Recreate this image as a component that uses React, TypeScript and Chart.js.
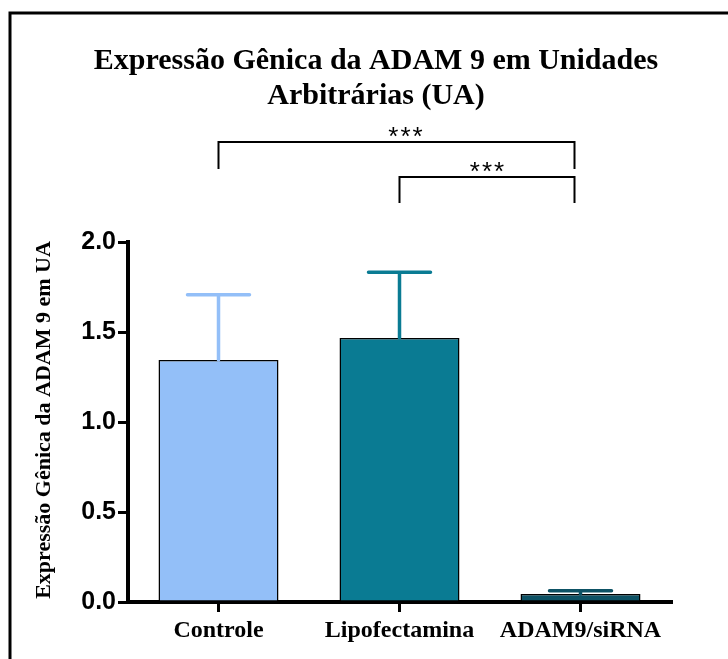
import React, { useEffect, useRef } from "react";
import { Chart, registerables } from "chart.js";

Chart.register(...registerables);

const categories = ["Controle", "Lipofectamina", "ADAM9/siRNA"];
const means = [1.345, 1.467, 0.045];
const sems = [0.362, 0.365, 0.017];
const barColors = ["#93BFF8", "#0A7B93", "#0D5265"];
const yTicks = [0, 0.5, 1.0, 1.5, 2.0];
const comparisons: [number, number, string][] = [
  [0, 2, "***"],
  [1, 2, "***"],
];
const titleLines = ["Expressão Gênica da ADAM 9 em Unidades", "Arbitrárias (UA)"];
const yTitle = "Expressão Gênica da ADAM 9 em UA";

const serif = "'Liberation Serif', 'Times New Roman', serif";
const sans = "'Liberation Sans', Arial, sans-serif";

const decorPlugin = {
  id: "decor",
  beforeDraw(chart: any) {
    const ctx = chart.ctx;
    ctx.save();
    ctx.fillStyle = "#fff";
    ctx.fillRect(0, 0, chart.width, chart.height);
    ctx.strokeStyle = "#000";
    ctx.lineWidth = 3;
    ctx.beginPath();
    ctx.moveTo(10, chart.height);
    ctx.lineTo(10, 13);
    ctx.lineTo(chart.width, 13);
    ctx.stroke();
    ctx.restore();
  },
  afterDatasetsDraw(chart: any) {
    const ctx = chart.ctx;
    const meta = chart.getDatasetMeta(0);
    const ys = chart.scales.y;
    ctx.save();
    ctx.lineCap = "round";
    meta.data.forEach((bar: any, i: number) => {
      const top = ys.getPixelForValue(means[i] + sems[i]);
      const base = ys.getPixelForValue(means[i]);
      ctx.strokeStyle = barColors[i];
      ctx.lineWidth = 3.5;
      ctx.beginPath();
      ctx.moveTo(bar.x, base);
      ctx.lineTo(bar.x, top);
      ctx.moveTo(bar.x - 31, top);
      ctx.lineTo(bar.x + 31, top);
      ctx.stroke();
    });
    ctx.restore();
  },
  afterDraw(chart: any) {
    const ctx = chart.ctx;
    const xs = chart.scales.x;
    ctx.save();
    // title
    ctx.fillStyle = "#000";
    ctx.textAlign = "center";
    ctx.textBaseline = "alphabetic";
    ctx.font = `bold 30px ${serif}`;
    ctx.fillText(titleLines[0], 376, 69);
    ctx.fillText(titleLines[1], 376, 104);
    // y title
    ctx.save();
    ctx.translate(50, 420);
    ctx.rotate(-Math.PI / 2);
    ctx.font = `bold 22px ${serif}`;
    ctx.fillText(yTitle, 0, 0);
    ctx.restore();
    // brackets
    const levels = [
      { y: 142, drop: 27, dx: 9 },
      { y: 177, drop: 26, dx: 0 },
    ];
    ctx.strokeStyle = "#000";
    ctx.lineWidth = 2;
    ctx.lineCap = "butt";
    comparisons.forEach(([a, b, label], k) => {
      const x1 = xs.getPixelForValue(a);
      const x2 = xs.getPixelForValue(b) - 6;
      const { y, drop, dx } = levels[k];
      ctx.beginPath();
      ctx.moveTo(x1, y + drop);
      ctx.lineTo(x1, y);
      ctx.lineTo(x2, y);
      ctx.lineTo(x2, y + drop);
      ctx.stroke();
      ctx.font = `normal 26px ${sans}`;
      (ctx as any).letterSpacing = "2px";
      ctx.textBaseline = "alphabetic";
      ctx.fillText(label, (x1 + x2) / 2 + dx + 1, y + 3);
      (ctx as any).letterSpacing = "0px";
    });
    ctx.restore();
  },
};

export default function App() {
  const ref = useRef<HTMLCanvasElement | null>(null);
  useEffect(() => {
    if (!ref.current) return;
    const chart = new Chart(ref.current, {
      type: "bar",
      data: {
        labels: categories,
        datasets: [
          {
            data: means,
            backgroundColor: barColors,
            borderColor: "#000",
            borderWidth: 1.5,
            barPercentage: 0.663,
            categoryPercentage: 1,
          },
        ],
      },
      options: {
        responsive: false,
        animation: false,
        devicePixelRatio: 1,
        layout: { padding: { top: 242, right: 57, left: 0, bottom: 0 } },
        plugins: { legend: { display: false }, tooltip: { enabled: false }, title: { display: false } },
        scales: {
          x: {
            afterFit: (s: any) => {
              s.height = 57;
            },
            grid: {
              offset: false,
              drawOnChartArea: false,
              drawTicks: true,
              tickLength: 10,
              lineWidth: 3,
              color: "#000",
            },
            border: { display: true, width: 4, color: "#000" },
            ticks: {
              color: "#000",
              padding: 4,
              font: { family: serif, size: 24, weight: "bold" },
              maxRotation: 0,
            },
          },
          y: {
            min: 0,
            max: 2,
            afterFit: (s: any) => {
              s.width = 128;
            },
            afterBuildTicks: (s: any) => {
              s.ticks = yTicks.map((v) => ({ value: v }));
            },
            grid: {
              drawOnChartArea: false,
              drawTicks: true,
              tickLength: 10,
              lineWidth: 3,
              color: "#000",
            },
            border: { display: true, width: 4, color: "#000" },
            ticks: {
              color: "#000",
              padding: 2,
              font: { family: sans, size: 25, weight: "bold" },
              callback: (v: any) => Number(v).toFixed(1),
            },
          },
        },
      },
      plugins: [decorPlugin],
    });
    return () => chart.destroy();
  }, []);
  return (
    <div style={{ position: "absolute", left: 0, top: 0, width: 728, height: 659 }}>
      <canvas ref={ref} width={728} height={659} style={{ width: 728, height: 659 }} />
    </div>
  );
}
